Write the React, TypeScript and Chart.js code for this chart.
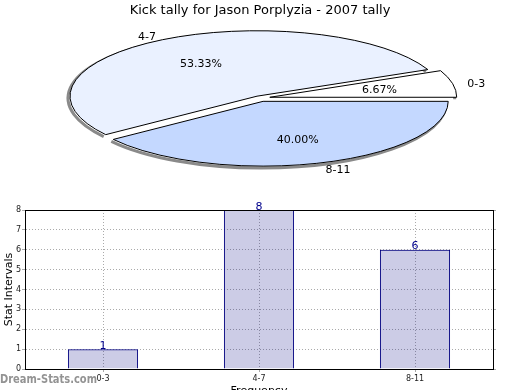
import React, { useEffect, useRef } from "react";
import { Chart, registerables } from "chart.js";

Chart.register(...registerables);

const pieTitle = "Kick tally for Jason Porplyzia - 2007 tally";
const categories = ["0-3", "4-7", "8-11"];
const counts = [1, 8, 6];
const pieColors = ["#ffffff", "#eaf1ff", "#c4d8ff"];
const pieOffsets = [40, 24, 40];
const yAxisTitle = "Stat Intervals";
const xAxisTitle = "Frequency";
const watermark = "Dream-Stats.com";

const FONT = "'DejaVu Sans', sans-serif";
const BASE_R = 181;
const K = 0.35;

// pie drawn clockwise from 3 o'clock: reverse order gives the reference layout
const pieOrder = [2, 1, 0];

function arcGeom(arc: any, cx: number, cy: number) {
  const offset = (arc.options.offset || 0) / 4;
  const circ = arc.endAngle - arc.startAngle;
  const fix = 1 - Math.sin(Math.min(Math.PI, circ));
  const h = (arc.startAngle + arc.endAngle) / 2;
  const r = arc.outerRadius + offset * fix;
  return {
    x: cx + Math.cos(h) * offset,
    y: cy + Math.sin(h) * offset * K,
    r,
    h,
  };
}

const ellipsePlugin = {
  id: "ellipsePie",
  beforeDatasetsDraw(chart: any) {
    const ctx = chart.ctx;
    const meta = chart.getDatasetMeta(0);
    const cx = meta.data[0].x;
    const cy = meta.data[0].y;
    // shadow
    ctx.save();
    ctx.strokeStyle = "#8a8a8a";
    ctx.lineWidth = 3;
    meta.data.forEach((arc: any) => {
      const g = arcGeom(arc, cx, cy);
      ctx.beginPath();
      ctx.ellipse(g.x - 2, g.y + 2, g.r, g.r * K, 0, arc.startAngle, arc.endAngle);
      ctx.stroke();
    });
    ctx.restore();
    ctx.save();
    ctx.translate(cx, cy);
    ctx.scale(1, K);
    ctx.translate(-cx, -cy);
  },
  afterDatasetsDraw(chart: any) {
    const ctx = chart.ctx;
    ctx.restore();
    const meta = chart.getDatasetMeta(0);
    const cx = meta.data[0].x;
    const cy = meta.data[0].y;
    const data = chart.data.datasets[0].data as number[];
    const labels = chart.data.labels as string[];
    const total = data.reduce((a, b) => a + b, 0);
    ctx.save();
    ctx.strokeStyle = "#000";
    ctx.lineWidth = 1;
    meta.data.forEach((arc: any) => {
      const g = arcGeom(arc, cx, cy);
      ctx.beginPath();
      ctx.moveTo(g.x, g.y);
      ctx.ellipse(g.x, g.y, g.r, g.r * K, 0, arc.startAngle, arc.endAngle);
      ctx.closePath();
      ctx.stroke();
    });
    ctx.fillStyle = "#000";
    ctx.font = `11px ${FONT}`;
    ctx.textBaseline = "middle";
    meta.data.forEach((arc: any, i: number) => {
      const g = arcGeom(arc, cx, cy);
      const R = 187;
      const c = Math.cos(g.h);
      const s = Math.sin(g.h);
      const pct = ((data[i] / total) * 100).toFixed(2) + "%";
      ctx.textAlign = "center";
      ctx.fillText(pct, g.x + c * R * 0.6, g.y + s * R * K * 0.6 + 1.5);
      ctx.textAlign = c >= 0 ? "left" : "right";
      ctx.fillText(labels[i], g.x + c * R * 1.08, g.y + s * R * K * 1.08 + 2);
    });
    ctx.restore();
  },
};

const barPlugin = {
  id: "barExtras",
  afterDatasetsDraw(chart: any) {
    const ctx = chart.ctx;
    const { left, right, top } = chart.chartArea;
    ctx.save();
    ctx.strokeStyle = "#000";
    ctx.lineWidth = 1;
    ctx.beginPath();
    ctx.moveTo(left, Math.round(top) + 0.5);
    ctx.lineTo(right, Math.round(top) + 0.5);
    ctx.stroke();
    const meta = chart.getDatasetMeta(0);
    const data = chart.data.datasets[0].data as number[];
    ctx.fillStyle = "#00008b";
    ctx.font = `11px ${FONT}`;
    ctx.textAlign = "center";
    ctx.textBaseline = "alphabetic";
    meta.data.forEach((bar: any, i: number) => {
      ctx.fillText(String(data[i]), bar.x, bar.y - 0.5);
    });
    ctx.restore();
  },
  afterDraw(chart: any) {
    const ctx = chart.ctx;
    ctx.save();
    ctx.font = `bold 13px ${FONT}`;
    ctx.fillStyle = "rgba(120,120,120,0.8)";
    ctx.textBaseline = "alphabetic";
    ctx.textAlign = "left";
    const w = ctx.measureText(watermark).width;
    ctx.translate(0, 188);
    ctx.scale(97 / w, 1);
    ctx.fillText(watermark, 0, 0);
    ctx.restore();
  },
};

export default function App() {
  const pieRef = useRef<HTMLCanvasElement>(null);
  const barRef = useRef<HTMLCanvasElement>(null);

  useEffect(() => {
    const pie = new Chart(pieRef.current!, {
      type: "pie",
      data: {
        labels: pieOrder.map((i) => categories[i]),
        datasets: [
          {
            data: pieOrder.map((i) => counts[i]),
            backgroundColor: pieOrder.map((i) => pieColors[i]),
            offset: pieOrder.map((i) => pieOffsets[i]),
            borderWidth: 0,
            radius: BASE_R,
            clip: false,
          } as any,
        ],
      },
      options: {
        animation: false,
        responsive: false,
        events: [],
        rotation: 90,
        layout: { padding: { top: 0, bottom: 24.6, left: 0, right: 0 } },
        plugins: {
          legend: { display: false },
          tooltip: { enabled: false },
          title: {
            display: true,
            text: pieTitle,
            color: "#000",
            font: { family: FONT, size: 13, weight: "normal" },
            padding: { top: 3, bottom: 2 },
          },
        },
      },
      plugins: [ellipsePlugin],
    });

    const bar = new Chart(barRef.current!, {
      type: "bar",
      data: {
        labels: categories,
        datasets: [
          {
            data: counts,
            backgroundColor: "rgba(0,0,128,0.2)",
            borderColor: "#000080",
            borderWidth: 1,
            barPercentage: 0.45,
            categoryPercentage: 1,
          },
        ],
      },
      options: {
        animation: false,
        responsive: false,
        events: [],
        layout: { padding: { top: 15, bottom: 0, left: 0, right: 0 } },
        plugins: {
          legend: { display: false },
          tooltip: { enabled: false },
        },
        scales: {
          x: {
            type: "category",
            offset: true,
            grid: {
              offset: false,
              color: "#aaaaaa",
              tickLength: 3,
              tickColor: "#aaaaaa",
            },
            border: { display: true, color: "#000", dash: [1, 2] },
            ticks: { color: "#222", font: { family: FONT, size: 8 }, padding: 2 },
            title: {
              display: true,
              text: xAxisTitle,
              color: "#000",
              font: { family: FONT, size: 11 },
              padding: { top: 0, bottom: 7 },
            },
            afterFit: (s: any) => {
              s.height = 36;
            },
          },
          y: {
            min: 0,
            max: 8,
            ticks: { stepSize: 1, color: "#222", font: { family: FONT, size: 8 }, padding: 1 },
            grid: { color: "#aaaaaa", tickLength: 3, tickColor: "#aaaaaa" },
            border: { display: true, color: "#000", dash: [1, 2] },
            title: {
              display: true,
              text: yAxisTitle,
              color: "#000",
              font: { family: FONT, size: 11 },
              padding: { top: 2.4, bottom: 0 },
            },
            afterFit: (s: any) => {
              s.width = 25;
            },
          },
          y2: {
            position: "right",
            min: 0,
            max: 8,
            ticks: { stepSize: 1, display: false },
            grid: { drawOnChartArea: false, tickLength: 3, tickColor: "#aaaaaa" },
            border: { display: true, color: "#000" },
            afterFit: (s: any) => {
              s.width = 27;
            },
          },
        },
      },
      plugins: [barPlugin],
    });

    return () => {
      pie.destroy();
      bar.destroy();
    };
  }, []);

  return (
    <div
      style={{
        position: "fixed",
        left: 0,
        top: 0,
        width: 520,
        height: 390,
        overflow: "hidden",
        background: "#fff",
      }}
    >
      <canvas
        ref={pieRef}
        width={520}
        height={200}
        style={{ position: "absolute", left: 0, top: 0, width: 520, height: 200 }}
      />
      <canvas
        ref={barRef}
        width={520}
        height={210}
        style={{ position: "absolute", left: 0, top: 195, width: 520, height: 210 }}
      />
    </div>
  );
}
